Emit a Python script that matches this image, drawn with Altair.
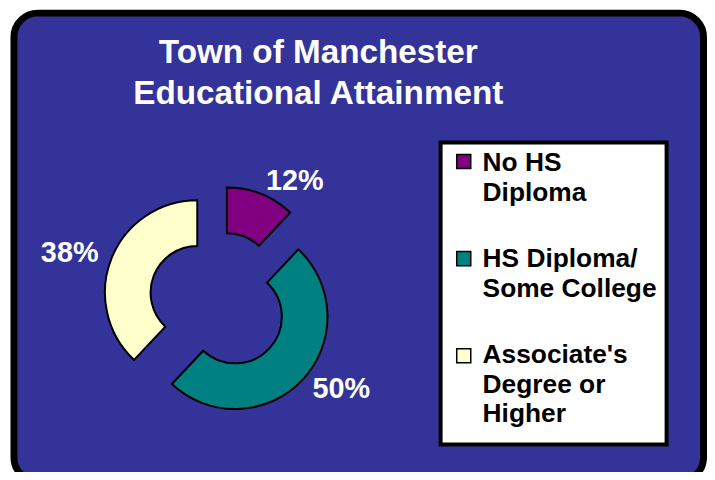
import altair as alt
import pandas as pd

# ---- data ----
categories = ["No HS Diploma", "HS Diploma/ Some College", "Associate's Degree or Higher"]
values = [12, 50, 38]
legend_labels = ["No HS\nDiploma", "HS Diploma/\nSome College", "Associate's\nDegree or\nHigher"]
colors = ["#800080", "#008080", "#FFFFCC"]
title_lines = ["Town of Manchester", "Educational Attainment"]

FONT = "Liberation Sans, Arial, Helvetica, sans-serif"
BLUE = "#333399"

df = pd.DataFrame({
    "category": categories,
    "value": values,
    "legend": legend_labels,
    "idx": list(range(len(categories))),
})
dummy = pd.DataFrame({"k": [0]})

color = alt.Color("category:N", scale=alt.Scale(domain=categories, range=colors), legend=None)

# panel background (rounded, black frame)
bg = alt.Chart(dummy).mark_rect(
    fill=BLUE, stroke="black", strokeWidth=7, cornerRadius=24
).encode(x=alt.value(6), x2=alt.value(700.5), y=alt.value(3.5), y2=alt.value(475))

title = alt.Chart(dummy).mark_text(
    text=title_lines, lineBreak="\n", lineHeight=41.6, font=FONT, fontSize=33.5,
    fontWeight="bold", color="white", align="center", baseline="alphabetic"
).encode(x=alt.value(312.5), y=alt.value(53.7))

# donut geometry computed from the values
base = alt.Chart(df).transform_window(
    cum="sum(value)", sort=[alt.SortField("idx")], frame=[None, 0]
).transform_joinaggregate(
    total="sum(value)"
).transform_calculate(
    start="2*PI*(datum.cum - datum.value)/datum.total",
    end="2*PI*datum.cum/datum.total",
    mid="(datum.start + datum.end)/2",
    cx="212 + 23*sin(datum.mid)",
    cy="293.5 - 23*cos(datum.mid)",
    lx="212 + 130*sin(datum.mid)",
    ly="293.5 - 130*cos(datum.mid)",
    pct="datum.value + '%'",
)

arcs = base.mark_arc(outerRadius=93, innerRadius=47, stroke="black", strokeWidth=2).encode(
    theta=alt.Theta("start:Q", scale=None, stack=None),
    theta2=alt.Theta2("end:Q"),
    x=alt.X("cx:Q", scale=None, axis=None),
    y=alt.Y("cy:Q", scale=None, axis=None),
    color=color,
)

label_enc = dict(
    x=alt.X("lx:Q", scale=None, axis=None),
    y=alt.Y("ly:Q", scale=None, axis=None),
    text="pct:N",
)
label_style = dict(font=FONT, fontSize=29, fontWeight="bold", color="white", baseline="middle")

pct_right = base.transform_filter("sin(datum.mid) >= 0").mark_text(
    align="left", **label_style
).encode(**label_enc)
pct_left = base.transform_filter("sin(datum.mid) < 0").mark_text(
    align="right", **label_style
).encode(**label_enc)

# legend box
legend_box = alt.Chart(dummy).mark_rect(
    fill="white", stroke="black", strokeWidth=4
).encode(x=alt.value(435.7), x2=alt.value(663.3), y=alt.value(133.7), y2=alt.value(438))

leg = alt.Chart(df).transform_calculate(
    sy="153 + datum.idx*97.75",
    ty="162.7 + datum.idx*96.65",
)

legend_sq = leg.mark_square(size=200, filled=True, opacity=1, stroke="black", strokeWidth=1.5).encode(
    x=alt.value(459),
    y=alt.Y("sy:Q", scale=None, axis=None),
    color=color,
)

legend_txt = leg.mark_text(
    font=FONT, fontSize=26.5, fontWeight="bold", color="black", align="left",
    baseline="alphabetic", lineBreak="\n", lineHeight=29.7
).encode(
    x=alt.value(478),
    y=alt.Y("ty:Q", scale=None, axis=None),
    text="legend:N",
)

chart = alt.layer(bg, title, arcs, pct_right, pct_left, legend_box, legend_sq, legend_txt).properties(
    width=704, height=464, padding=0, autosize="none", background="white"
).configure_view(stroke=None)

chart.save("out.html", embed_options={"renderer": "svg", "actions": False})
